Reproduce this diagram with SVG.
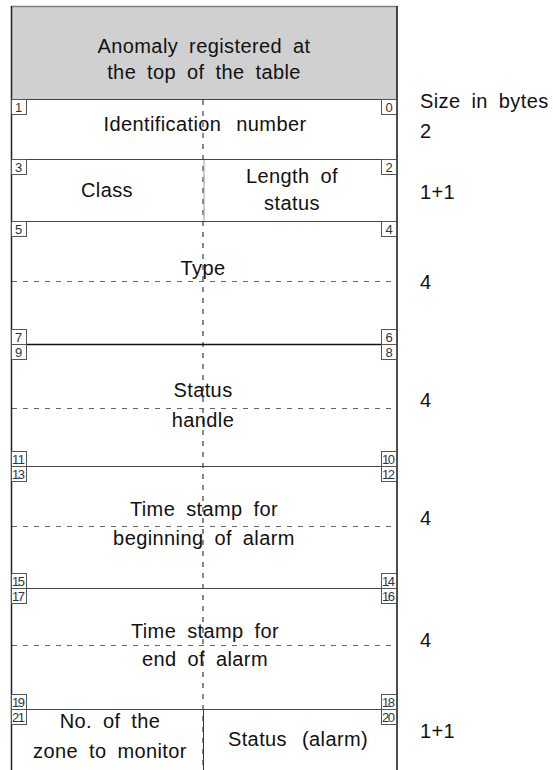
<svg xmlns="http://www.w3.org/2000/svg" width="553" height="770" viewBox="0 0 553 770">
<style>
.t{font-family:"Liberation Sans",Arial,sans-serif;font-size:20px;fill:#111;letter-spacing:0.4px;word-spacing:5px;}
.m{text-anchor:middle;}
.n{font-family:"Liberation Sans",Arial,sans-serif;font-size:13px;fill:#333;}
.b{fill:#fff;stroke:#555;stroke-width:1;}
.sep{stroke:#444;stroke-width:1.2;fill:none;}
.dh{stroke:#666;stroke-width:1.2;stroke-dasharray:5,6;fill:none;}
.dv{stroke:#666;stroke-width:1.5;stroke-dasharray:5,6;fill:none;}
</style>
<rect x="0" y="0" width="553" height="770" fill="#fff"/>
<g id="header">
<rect x="11.5" y="6" width="385.5" height="93" fill="#d0d0d0"/>
<line x1="11" y1="6.5" x2="397" y2="6.5" stroke="#808080" stroke-width="1.5"/>
<text class="t m" x="204" y="53">Anomaly registered at</text>
<text class="t m" x="204" y="79">the top of the table</text>
</g>
<g id="guides">
<line class="dv" x1="203" y1="100" x2="203" y2="770"/>
<line class="dh" x1="12" y1="281.5" x2="396" y2="281.5"/>
<line class="dh" x1="12" y1="408.5" x2="396" y2="408.5"/>
<line class="dh" x1="12" y1="526.5" x2="396" y2="526.5"/>
<line class="dh" x1="12" y1="645.5" x2="396" y2="645.5"/>
<line x1="204" y1="159" x2="204" y2="221" stroke="#999" stroke-width="1"/>
<line x1="203.5" y1="710" x2="203.5" y2="770" stroke="#333" stroke-width="1"/>
</g>
<g id="frame">
<line class="sep" x1="11" y1="99.5" x2="397" y2="99.5"/>
<line class="sep" x1="11" y1="159.5" x2="397" y2="159.5"/>
<line class="sep" x1="11" y1="221.5" x2="397" y2="221.5"/>
<line x1="11" y1="344.5" x2="397" y2="344.5" stroke="#111" stroke-width="1.5"/>
<line class="sep" x1="11" y1="466.5" x2="397" y2="466.5"/>
<line class="sep" x1="11" y1="588.5" x2="397" y2="588.5"/>
<line class="sep" x1="11" y1="709.5" x2="397" y2="709.5"/>
<line x1="11.5" y1="6" x2="11.5" y2="770" stroke="#222" stroke-width="1.5"/>
<line x1="397" y1="6" x2="397" y2="770" stroke="#111" stroke-width="1.5"/>
</g>
<g id="row-id">
<text class="t m" x="205" y="131" style="word-spacing:9px">Identification number</text>
<rect class="b" x="11.5" y="99.5" width="15" height="15"/><text class="n" x="15" y="112">1</text>
<rect class="b" x="381.5" y="99.5" width="15" height="15"/><text class="n" x="385.5" y="112">0</text>
</g>
<g id="row-class">
<text class="t m" x="107" y="197">Class</text>
<text class="t m" x="292" y="183">Length of</text>
<text class="t m" x="292" y="210">status</text>
<rect class="b" x="11.5" y="159.5" width="15" height="15"/><text class="n" x="15" y="172">3</text>
<rect class="b" x="381.5" y="159.5" width="15" height="15"/><text class="n" x="385.5" y="172">2</text>
</g>
<g id="row-type">
<text class="t m" x="203" y="275">Type</text>
<rect class="b" x="11.5" y="221.5" width="15" height="15"/><text class="n" x="15" y="234">5</text>
<rect class="b" x="381.5" y="221.5" width="15" height="15"/><text class="n" x="385.5" y="234">4</text>
<rect class="b" x="11.5" y="329.5" width="15" height="15"/><text class="n" x="15" y="342">7</text>
<rect class="b" x="381.5" y="329.5" width="15" height="15"/><text class="n" x="385.5" y="342">6</text>
</g>
<g id="row-status-handle">
<text class="t m" x="203" y="397">Status</text>
<text class="t m" x="203" y="427">handle</text>
<rect class="b" x="11.5" y="344.5" width="15" height="15"/><text class="n" x="15" y="357">9</text>
<rect class="b" x="381.5" y="344.5" width="15" height="15"/><text class="n" x="385.5" y="357">8</text>
<rect class="b" x="11.5" y="451.5" width="15" height="15"/><text class="n" x="12" y="464" textLength="13">11</text>
<rect class="b" x="381.5" y="451.5" width="15" height="15"/><text class="n" x="382" y="464" textLength="13">10</text>
</g>
<g id="row-begin">
<text class="t m" x="204" y="516">Time stamp for</text>
<text class="t m" x="204" y="545">beginning of alarm</text>
<rect class="b" x="11.5" y="466.5" width="15" height="15"/><text class="n" x="12" y="479" textLength="13">13</text>
<rect class="b" x="381.5" y="466.5" width="15" height="15"/><text class="n" x="382" y="479" textLength="13">12</text>
<rect class="b" x="11.5" y="573.5" width="15" height="15"/><text class="n" x="12" y="586" textLength="13">15</text>
<rect class="b" x="381.5" y="573.5" width="15" height="15"/><text class="n" x="382" y="586" textLength="13">14</text>
</g>
<g id="row-end">
<text class="t m" x="205" y="638">Time stamp for</text>
<text class="t m" x="205" y="666">end of alarm</text>
<rect class="b" x="11.5" y="588.5" width="15" height="15"/><text class="n" x="12" y="601" textLength="13">17</text>
<rect class="b" x="381.5" y="588.5" width="15" height="15"/><text class="n" x="382" y="601" textLength="13">16</text>
<rect class="b" x="11.5" y="694.5" width="15" height="15"/><text class="n" x="12" y="707" textLength="13">19</text>
<rect class="b" x="381.5" y="694.5" width="15" height="15"/><text class="n" x="382" y="707" textLength="13">18</text>
</g>
<g id="row-zone">
<text class="t m" x="110" y="728">No. of the</text>
<text class="t m" x="110" y="758">zone to monitor</text>
<text class="t m" x="298" y="746" style="word-spacing:9px">Status (alarm)</text>
<rect class="b" x="11.5" y="709.5" width="15" height="15"/><text class="n" x="12" y="722" textLength="13">21</text>
<rect class="b" x="381.5" y="709.5" width="15" height="15"/><text class="n" x="382" y="722" textLength="13">20</text>
</g>
<g id="sizes">
<text class="t" x="420" y="108">Size in bytes</text>
<text class="t" x="420" y="138">2</text>
<text class="t" x="420" y="199">1+1</text>
<text class="t" x="420" y="289">4</text>
<text class="t" x="420" y="407">4</text>
<text class="t" x="420" y="525">4</text>
<text class="t" x="420" y="647">4</text>
<text class="t" x="420" y="738">1+1</text>
</g>
</svg>
